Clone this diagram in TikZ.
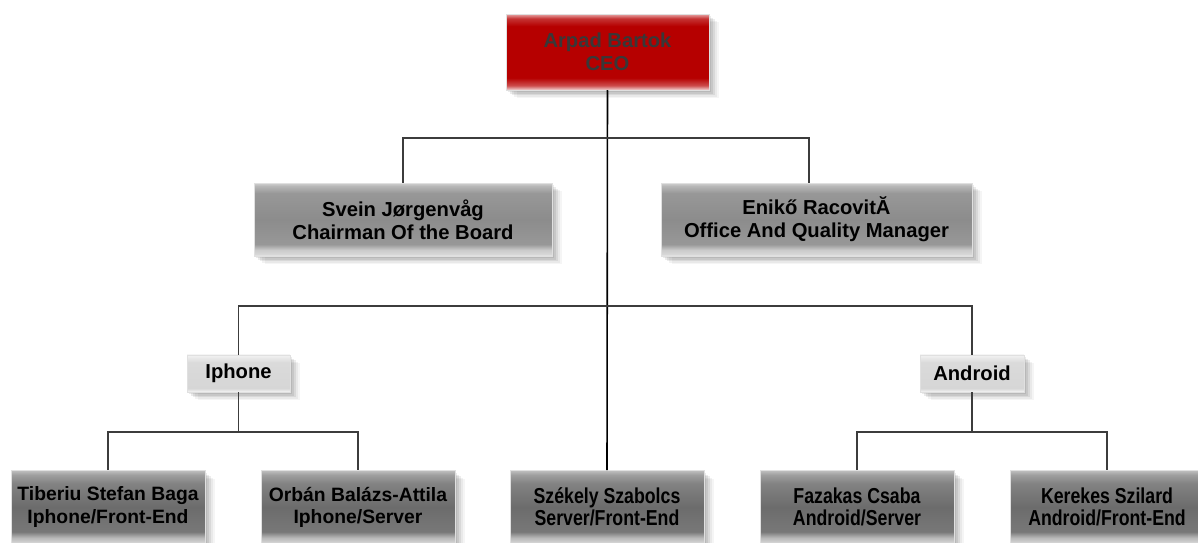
\documentclass[tikz,border=0pt]{standalone}
\usepackage{fontspec}
\setmainfont{Liberation Sans}
\newfontfamily\narrowfont[FakeStretch=0.82]{Liberation Sans}
\usetikzlibrary{shadows}

% box colours
\definecolor{redmid}{HTML}{B60000}
\definecolor{redtop}{HTML}{E8A8A8}
\definecolor{redlow}{HTML}{F2D4D4}
\definecolor{greymid}{HTML}{8C8C8C}
\definecolor{darkmid}{HTML}{6C6C6C}
\definecolor{lightmid}{HTML}{D6D6D6}
\definecolor{linegrey}{HTML}{3C3C3C}

% vertical shadings: 25bp = lower edge, 75bp = upper edge
\pgfdeclareverticalshading{ceoshade}{100bp}{%
  color(0bp)=(redlow); color(25bp)=(redlow); color(28bp)=(redmid!70!white);
  color(33bp)=(redmid); color(67bp)=(redmid); color(72bp)=(redmid!80!white);
  color(75bp)=(redtop); color(100bp)=(redtop)}
\pgfdeclareverticalshading{greyshade}{100bp}{%
  color(0bp)=(white!94!black); color(25bp)=(white!94!black); color(26bp)=(white!85!black);
  color(29bp)=(white!80!black); color(33bp)=(greymid!90!white); color(50bp)=(greymid);
  color(68bp)=(greymid!90!white); color(73bp)=(white!72!black); color(75bp)=(white!82!black);
  color(100bp)=(white!82!black)}
\pgfdeclareverticalshading{darkshade}{100bp}{%
  color(0bp)=(white!92!black); color(25bp)=(white!92!black); color(26bp)=(white!82!black);
  color(29bp)=(white!72!black); color(33bp)=(darkmid!92!white); color(50bp)=(darkmid);
  color(66bp)=(darkmid!85!white); color(72bp)=(white!62!black); color(75bp)=(white!75!black);
  color(100bp)=(white!75!black)}
\pgfdeclareverticalshading{lightshade}{100bp}{%
  color(0bp)=(white!96!black); color(25bp)=(white!96!black); color(30bp)=(lightmid);
  color(65bp)=(lightmid!90!white); color(75bp)=(white!95!black); color(100bp)=(white!95!black)}

\begin{document}
\begin{tikzpicture}[x=0.02cm, y=-0.02cm,
  softshadow/.style={
    drop shadow={shadow xshift=0.04cm, shadow yshift=-0.04cm, opacity=0.08, fill=black},
    drop shadow={shadow xshift=0.08cm, shadow yshift=-0.08cm, opacity=0.08, fill=black},
    drop shadow={shadow xshift=0.12cm, shadow yshift=-0.11cm, opacity=0.07, fill=black},
    drop shadow={shadow xshift=0.16cm, shadow yshift=-0.14cm, opacity=0.05, fill=black},
    drop shadow={shadow xshift=0.21cm, shadow yshift=-0.17cm, opacity=0.04, fill=black}},
  orgbox/.style={rectangle, inner sep=0pt, align=center, draw=black!12, line width=0.3pt,
    font=\bfseries\fontsize{11.5}{13.3}\selectfont, text=black, softshadow},
  ceobox/.style={orgbox, shading=ceoshade, text=black!78,
    minimum width=4.06cm, minimum height=1.52cm},
  headbox/.style={orgbox, shading=greyshade, minimum height=1.46cm},
  teambox/.style={orgbox, shading=lightshade, minimum height=0.74cm},
  devbox/.style={orgbox, shading=darkshade, minimum width=3.88cm, minimum height=1.46cm,
    font=\bfseries\fontsize{11}{12.6}\selectfont},
  narrowdev/.style={devbox, font=\narrowfont\bfseries\fontsize{12.3}{12.8}\selectfont},
  link/.style={draw=linegrey, line width=0.7pt},
  mainlink/.style={draw=black, line width=0.9pt}]

\useasboundingbox (0,0) rectangle (1198,543);
\clip (0,0) rectangle (1198,543);

% nodes
\node[ceobox] (ceo) at (607.5,52) {Arpad Bartok\\CEO};
\node[headbox, minimum width=5.96cm] (chair) at (403,219.5)
  {Svein Jørgenvåg\\Chairman Of the Board};
\node[headbox, minimum width=6.22cm] (office) at (816.5,219.5)
  {Enikő RacovitĂ\\Office And Quality Manager};
\node[teambox, minimum width=2.06cm] (iphone) at (238.5,373.5) {Iphone};
\node[teambox, minimum width=2.08cm] (android) at (972,373.5) {Android};
\node[devbox] (tib) at (108,507) {Tiberiu Stefan Baga\\Iphone/Front-End};
\node[devbox] (orb) at (358,507) {Orbán Balázs-Attila\\Iphone/Server};
\node[narrowdev] (sze) at (607,507) {Székely Szabolcs\\Server/Front-End};
\node[narrowdev] (faz) at (857,507) {Fazakas Csaba\\Android/Server};
\node[narrowdev] (ker) at (1107,507) {Kerekes Szilard\\Android/Front-End};

% junction points
\coordinate (j1) at (607,138);
\coordinate (j2) at (607,306);
\coordinate (ji) at (238.5,432);
\coordinate (ja) at (972,432);

% connectors
\draw[mainlink] (ceo.south) -- (sze.north);
\draw[link] (chair.north) |- (j1) -| (office.north -| 809,0);
\draw[link] (iphone.north) |- (j2) -| (android.north);
\draw[link] (iphone.south) -- (ji);
\draw[link] (tib.north) |- (ji) -| (orb.north);
\draw[link] (android.south) -- (ja);
\draw[link] (faz.north) |- (ja) -| (ker.north);

\end{tikzpicture}
\end{document}
